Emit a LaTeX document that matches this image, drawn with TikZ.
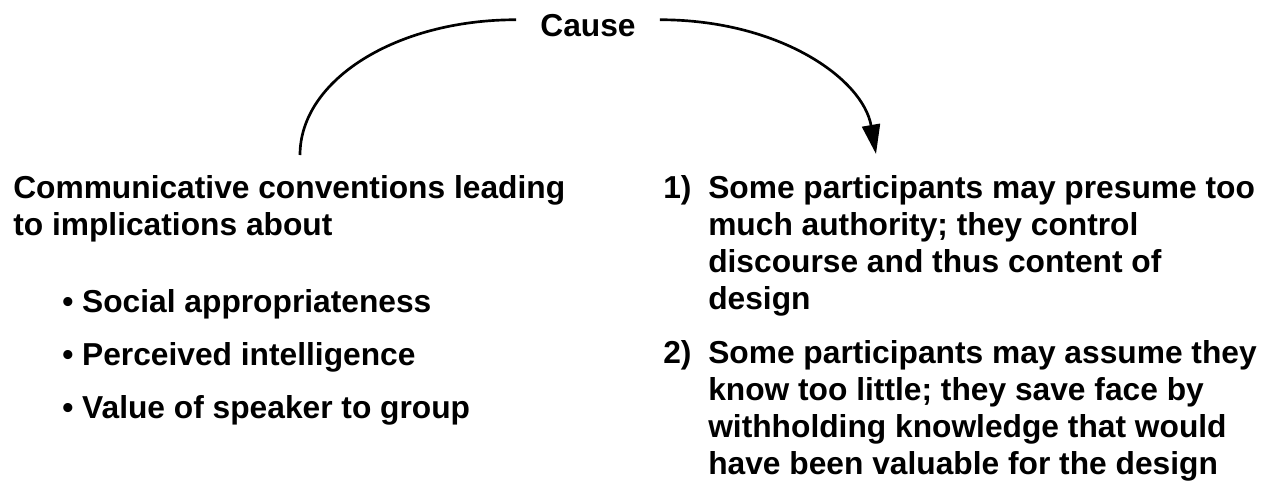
\documentclass[tikz,border=0pt]{standalone}
\usepackage{fontspec}
\setmainfont{Liberation Sans}
\usetikzlibrary{positioning, arrows.meta}
\newcommand{\causearrow}{-{Triangle[length=22pt,width=13.5pt]}}
\newcommand{\curvewidth}{2pt}

\tikzset{
  txt/.style={font=\bfseries\fontsize{23.8}{27.75}\selectfont, inner sep=0pt, anchor=base west, align=left},
}

\begin{document}
\begin{tikzpicture}[x=0.75pt, y=-0.75pt]
        \useasboundingbox (0,0) rectangle (1266,480);
        % label on top of the curve
        \node[txt, anchor=base, inner xsep=18pt] (cause) at (588,36) {Cause};
        \coordinate (from) at (300,155);
        \coordinate (to) at (876,154);
        \draw[line width=\curvewidth] (from) .. controls +(0,-75) and +(-120,0) .. ([yshift=4pt]cause.west);
        \draw[line width=\curvewidth, \causearrow] ([yshift=4pt]cause.east) .. controls +(120,0) and +(-13,-75) .. (to);
        % left side (multi-line nodes sit on their last line)
        \node[txt] (conv) at (13,235) {Communicative conventions leading\\to implications about};
        \node[txt] (social) at (62,312) {\textbullet\ Social appropriateness};
        \node[txt] (intel) at (62,365) {\textbullet\ Perceived intelligence};
        \node[txt] (value) at (62,418) {\textbullet\ Value of speaker to group};
        % right side
        \node[txt] (num1) at (663,198) {1)};
        \node[txt] (item1) at (708,309) {Some participants may presume too\\much authority; they control\\discourse and thus content of\\design};
        \node[txt] (num2) at (663,363) {2)};
        \node[txt] (item2) at (708,474) {Some participants may assume they\\know too little; they save face by\\withholding knowledge that would\\have been valuable for the design};
    \end{tikzpicture}
\end{document}
